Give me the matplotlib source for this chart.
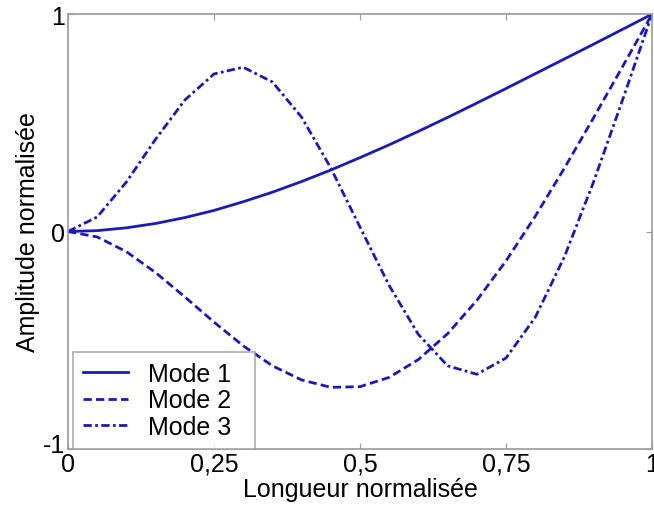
import matplotlib.pyplot as plt
from matplotlib.ticker import FixedLocator
from matplotlib.transforms import offset_copy

plt.rcParams['font.family'] = ['Liberation Sans', 'DejaVu Sans']

# longueur normalisée
x = [0, 0.05, 0.10, 0.15, 0.20, 0.25, 0.30, 0.35, 0.40, 0.45, 0.50,
     0.55, 0.60, 0.65, 0.70, 0.75, 0.80, 0.85, 0.90, 0.95, 1.0]

mode1 = [0, 0.004, 0.017, 0.037, 0.064, 0.097, 0.137, 0.181, 0.230, 0.283, 0.340,
         0.399, 0.461, 0.525, 0.591, 0.658, 0.726, 0.794, 0.862, 0.931, 1.0]
mode2 = [0, -0.025, -0.093, -0.189, -0.301, -0.417, -0.526, -0.618, -0.683, -0.717, -0.714,
         -0.671, -0.589, -0.470, -0.317, -0.135, 0.070, 0.292, 0.524, 0.761, 1.0]
mode3 = [0, 0.067, 0.228, 0.425, 0.605, 0.725, 0.756, 0.688, 0.526, 0.292, 0.020,
         -0.249, -0.474, -0.618, -0.657, -0.582, -0.395, -0.116, 0.229, 0.609, 1.0]

xticks = [0, 0.25, 0.5, 0.75, 1]
xlabels = ["0", "0,25", "0,5", "0,75", "1"]
yticks = [-1, 0, 1]
ylabels = ["-1", "0", "1"]

bleu = '#1a1ab4'
gris = '#9a9a9a'

fig = plt.figure(figsize=(6.54, 5.06), dpi=100)
ax = fig.add_axes([0.104, 0.111, 0.893, 0.859])

ax.plot(x, mode1, color=bleu, lw=2, ls='-', label="Mode 1")
ax.plot(x, mode2, color=bleu, lw=2, ls=(0, (3, 1.5)), label="Mode 2")
ax.plot(x, mode3, color=bleu, lw=2, ls=(0, (3, 1.2, 1, 1.2)), label="Mode 3")

ax.set_xlim(0, 1)
ax.set_ylim(-1, 1)
ax.xaxis.set_major_locator(FixedLocator(xticks))
ax.yaxis.set_major_locator(FixedLocator(yticks))
ax.set_xticklabels(xlabels)
ax.set_yticklabels(ylabels)
ax.tick_params(direction='in', length=4, color=gris, labelsize=18, pad=2,
               top=True, right=True)
for s in ax.spines.values():
    s.set_color(gris)
    s.set_linewidth(1.2)

# le "-1" est un peu remonté
lab = ax.get_yticklabels()[0]
lab.set_transform(offset_copy(lab.get_transform(), fig=fig, x=0, y=6, units='dots'))

ax.set_xlabel("Longueur normalisée", fontsize=18, labelpad=1)
ax.set_ylabel("Amplitude normalisée", fontsize=18, labelpad=2)

leg = ax.legend(loc='lower left', bbox_to_anchor=(0.009, 0.0, 0.312, 0.22),
                mode='expand', fontsize=18, frameon=True, fancybox=False,
                borderaxespad=0.0, handlelength=1.8, handletextpad=0.8,
                labelspacing=0.1, borderpad=0.4)
leg.get_frame().set_edgecolor(gris)
leg.get_frame().set_linewidth(1.2)

plt.savefig("out.png", dpi=100)
